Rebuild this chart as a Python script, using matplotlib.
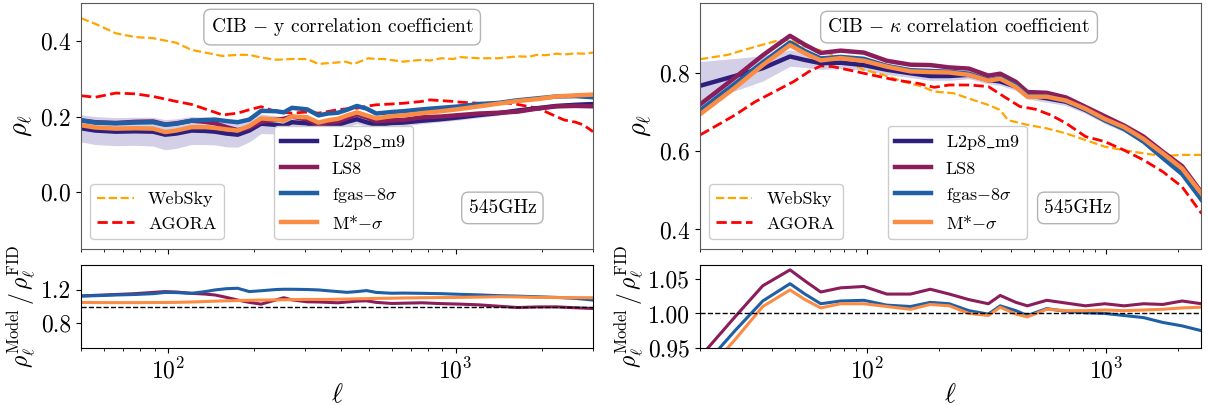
import matplotlib
matplotlib.use("Agg")
import matplotlib.pyplot as plt
import numpy as np

plt.rcParams["font.family"] = ["cmr10", "DejaVu Serif"]
plt.rcParams["mathtext.fontset"] = "cm"
plt.rcParams["axes.formatter.use_mathtext"] = True
plt.rcParams["font.size"] = 14

# ---------------- CIB - y (left) ----------------
ell_y = [50, 56, 66, 77, 89, 98, 107, 121, 135, 146, 160, 175, 192, 211, 238, 253, 270,
         305, 334, 360, 390, 420, 454, 490, 530, 600, 657, 765, 890, 1034, 1207, 1408,
         1644, 1918, 2238, 2612, 3000]
fid_y = [0.169, 0.163, 0.160, 0.161, 0.160, 0.152, 0.155, 0.163, 0.162, 0.160, 0.155, 0.152,
         0.163, 0.181, 0.178, 0.175, 0.185, 0.182, 0.169, 0.175, 0.178, 0.186, 0.193, 0.185,
         0.178, 0.183, 0.184, 0.189, 0.193, 0.198, 0.204, 0.209, 0.216, 0.222, 0.228, 0.231, 0.233]
fid_y_hi = [0.205, 0.200, 0.197, 0.198, 0.198, 0.192, 0.194, 0.200, 0.198, 0.195, 0.190, 0.185,
            0.193, 0.207, 0.202, 0.198, 0.205, 0.200, 0.186, 0.190, 0.192, 0.199, 0.205, 0.196,
            0.189, 0.193, 0.193, 0.197, 0.200, 0.205, 0.211, 0.215, 0.222, 0.228, 0.234, 0.237, 0.239]
fid_y_lo = [0.133, 0.126, 0.123, 0.124, 0.122, 0.112, 0.116, 0.126, 0.126, 0.125, 0.120, 0.119,
            0.133, 0.155, 0.154, 0.152, 0.165, 0.164, 0.152, 0.160, 0.164, 0.173, 0.181, 0.174,
            0.167, 0.173, 0.175, 0.181, 0.186, 0.191, 0.197, 0.203, 0.210, 0.216, 0.222, 0.225, 0.227]
ls8_y = [0.190, 0.185, 0.183, 0.186, 0.187, 0.179, 0.182, 0.189, 0.186, 0.182, 0.172, 0.164,
         0.171, 0.186, 0.192, 0.194, 0.200, 0.192, 0.178, 0.184, 0.186, 0.196, 0.206, 0.198,
         0.187, 0.190, 0.191, 0.198, 0.200, 0.204, 0.208, 0.210, 0.213, 0.221, 0.227, 0.228, 0.227]
fgas_y = [0.190, 0.184, 0.182, 0.184, 0.185, 0.178, 0.181, 0.189, 0.191, 0.192, 0.188, 0.185,
          0.192, 0.215, 0.214, 0.211, 0.223, 0.219, 0.203, 0.208, 0.210, 0.218, 0.228, 0.221,
          0.208, 0.212, 0.214, 0.219, 0.223, 0.227, 0.233, 0.236, 0.243, 0.248, 0.253, 0.254, 0.251]
mstar_y = [0.177, 0.171, 0.168, 0.169, 0.168, 0.159, 0.163, 0.172, 0.172, 0.170, 0.166, 0.163,
           0.175, 0.195, 0.192, 0.189, 0.200, 0.198, 0.184, 0.190, 0.194, 0.203, 0.211, 0.203,
           0.195, 0.201, 0.203, 0.209, 0.214, 0.220, 0.227, 0.234, 0.241, 0.246, 0.253, 0.256, 0.258]
ratio_ls8_y = [1.127, 1.135, 1.145, 1.155, 1.170, 1.180, 1.175, 1.159, 1.150, 1.139, 1.110, 1.078,
               1.050, 1.029, 1.080, 1.106, 1.080, 1.057, 1.055, 1.050, 1.045, 1.055, 1.065, 1.069,
               1.050, 1.037, 1.040, 1.045, 1.035, 1.029, 1.020, 1.004, 0.988, 0.995, 0.996, 0.985, 0.976]
ratio_fgas_y = [1.127, 1.130, 1.139, 1.145, 1.155, 1.170, 1.168, 1.159, 1.180, 1.200, 1.215, 1.220,
                1.180, 1.190, 1.205, 1.208, 1.208, 1.205, 1.200, 1.190, 1.180, 1.171, 1.180, 1.192,
                1.170, 1.160, 1.162, 1.159, 1.155, 1.147, 1.140, 1.131, 1.125, 1.118, 1.110, 1.098, 1.078]
ratio_mstar_y = [1.049, 1.048, 1.047, 1.047, 1.048, 1.049, 1.050, 1.055, 1.060, 1.065, 1.069, 1.072,
                 1.075, 1.078, 1.080, 1.081, 1.083, 1.086, 1.086, 1.086, 1.088, 1.090, 1.093, 1.095,
                 1.098, 1.100, 1.103, 1.106, 1.108, 1.110, 1.114, 1.118, 1.116, 1.110, 1.108, 1.107, 1.106]

ell_ext_y = [50, 56, 66, 77, 89, 107, 121, 129, 150, 155, 175, 192, 211, 238, 270, 305, 334,
             390, 414, 440, 454, 498, 530, 563, 657, 765, 814, 890, 980, 1034, 1207, 1408,
             1500, 1644, 1800, 1918, 2050, 2238, 2380, 2612, 2775, 3000]
websky_y = [0.460, 0.445, 0.420, 0.410, 0.407, 0.395, 0.376, 0.372, 0.362, 0.360, 0.363, 0.363,
            0.356, 0.350, 0.352, 0.352, 0.339, 0.343, 0.345, 0.339, 0.342, 0.354, 0.352, 0.352,
            0.345, 0.350, 0.348, 0.354, 0.352, 0.357, 0.354, 0.354, 0.356, 0.359, 0.358, 0.363,
            0.362, 0.366, 0.364, 0.367, 0.366, 0.369]
agora_y = [0.255, 0.251, 0.262, 0.260, 0.253, 0.240, 0.232, 0.225, 0.208, 0.204, 0.209, 0.218,
           0.226, 0.213, 0.209, 0.212, 0.209, 0.218, 0.220, 0.222, 0.222, 0.228, 0.231, 0.232,
           0.235, 0.240, 0.244, 0.242, 0.240, 0.238, 0.235, 0.235, 0.236, 0.232, 0.226, 0.222,
           0.213, 0.200, 0.191, 0.185, 0.178, 0.160]

# ---------------- CIB - kappa (right) ----------------
ell_k = [20, 28, 36.6, 47.6, 55, 64, 77.5, 97, 121, 152, 184, 221, 267, 322, 361, 420, 469,
         565, 681, 821, 989, 1192, 1436, 1730, 2085, 2512]
fid_k = [0.768, 0.793, 0.813, 0.843, 0.834, 0.826, 0.827, 0.821, 0.809, 0.800, 0.793, 0.793,
         0.796, 0.783, 0.779, 0.766, 0.744, 0.736, 0.727, 0.706, 0.680, 0.659, 0.629, 0.591,
         0.552, 0.488]
fid_k_hi = [0.830, 0.838, 0.845, 0.860, 0.852, 0.843, 0.842, 0.834, 0.821, 0.811, 0.804, 0.804,
            0.806, 0.793, 0.789, 0.776, 0.754, 0.746, 0.737, 0.715, 0.689, 0.668, 0.638, 0.600,
            0.561, 0.497]
fid_k_lo = [0.730, 0.755, 0.780, 0.818, 0.815, 0.810, 0.812, 0.808, 0.797, 0.789, 0.782, 0.782,
            0.786, 0.773, 0.769, 0.756, 0.734, 0.726, 0.717, 0.697, 0.671, 0.650, 0.620, 0.582,
            0.543, 0.479]
ls8_k = [0.720, 0.789, 0.846, 0.896, 0.873, 0.852, 0.858, 0.853, 0.832, 0.822, 0.821, 0.815,
         0.812, 0.794, 0.799, 0.778, 0.752, 0.750, 0.738, 0.714, 0.690, 0.666, 0.638, 0.599,
         0.562, 0.495]
fgas_k = [0.705, 0.773, 0.828, 0.879, 0.857, 0.838, 0.842, 0.837, 0.819, 0.808, 0.806, 0.804,
          0.799, 0.782, 0.788, 0.769, 0.742, 0.741, 0.729, 0.707, 0.680, 0.657, 0.625, 0.583,
          0.542, 0.476]
mstar_k = [0.695, 0.763, 0.821, 0.872, 0.851, 0.833, 0.839, 0.832, 0.817, 0.805, 0.803, 0.802,
           0.796, 0.781, 0.786, 0.765, 0.740, 0.740, 0.730, 0.709, 0.683, 0.662, 0.632, 0.595,
           0.556, 0.492]
ratio_ls8_k = [0.937, 0.995, 1.040, 1.063, 1.047, 1.031, 1.037, 1.039, 1.028, 1.028, 1.035, 1.028,
               1.020, 1.014, 1.026, 1.016, 1.011, 1.019, 1.015, 1.011, 1.014, 1.011, 1.014, 1.013,
               1.018, 1.014]
ratio_fgas_k = [0.918, 0.975, 1.018, 1.043, 1.028, 1.014, 1.018, 1.019, 1.012, 1.010, 1.016, 1.014,
                1.004, 0.999, 1.011, 1.004, 0.997, 1.007, 1.003, 1.001, 1.000, 0.997, 0.994, 0.987,
                0.982, 0.975]
ratio_mstar_k = [0.905, 0.962, 1.010, 1.034, 1.020, 1.008, 1.014, 1.014, 1.010, 1.006, 1.013, 1.011,
                 1.000, 0.997, 1.009, 0.999, 0.995, 1.006, 1.004, 1.004, 1.005, 1.004, 1.005, 1.006,
                 1.008, 1.009]

ell_ext_k = [20, 26, 34, 42.5, 47.6, 55, 66.6, 77.5, 97, 117, 141, 170, 191, 230, 277, 322, 361,
             389, 469, 565, 681, 821, 989, 1192, 1436, 1730, 2085, 2512]
websky_k = [0.836, 0.847, 0.868, 0.884, 0.885, 0.868, 0.856, 0.838, 0.809, 0.796, 0.779, 0.766,
            0.753, 0.749, 0.732, 0.719, 0.706, 0.680, 0.668, 0.659, 0.646, 0.629, 0.612, 0.603,
            0.595, 0.588, 0.591, 0.591]
ell_agora_k = [20, 23, 28, 34, 41, 49.4, 57, 64, 72, 83, 104, 131, 164, 191, 221, 267, 322, 375,
               436, 506, 588, 681, 821, 989, 1192, 1436, 1730, 2085, 2512]
agora_k = [0.642, 0.663, 0.693, 0.727, 0.753, 0.779, 0.804, 0.819, 0.817, 0.809, 0.796, 0.783,
           0.774, 0.764, 0.770, 0.770, 0.766, 0.740, 0.715, 0.708, 0.693, 0.672, 0.638, 0.625,
           0.603, 0.578, 0.548, 0.509, 0.441]

c_fid = "#2e1f7c"
c_ls8 = "#8a1d5a"
c_fgas = "#1f5fa6"
c_mstar = "#fb8c44"
c_band = "#d3cfe6"

fig = plt.figure(figsize=(12.08, 4.05), dpi=100)
axes = [
    (fig.add_axes([0.0671, 0.3852, 0.4238, 0.6074]), fig.add_axes([0.0671, 0.1407, 0.4238, 0.2049])),
    (fig.add_axes([0.5795, 0.3852, 0.4147, 0.6074]), fig.add_axes([0.5795, 0.1407, 0.4147, 0.2049])),
]

panels = [
    dict(ell=ell_y, fid=fid_y, hi=fid_y_hi, lo=fid_y_lo, ls8=ls8_y, fgas=fgas_y, mstar=mstar_y,
         r_ls8=ratio_ls8_y, r_fgas=ratio_fgas_y, r_mstar=ratio_mstar_y,
         ell_ws=ell_ext_y, ws=websky_y, ell_ag=ell_ext_y, ag=agora_y,
         title=r"CIB $-$ y correlation coefficient", xlim=(50, 3000), ylim=(-0.15, 0.5),
         yticks=[0.0, 0.2, 0.4], rylim=(0.5, 1.5), ryticks=[0.8, 1.2], rfmt="%.1f",
         leg2x=0.377, ghzx=0.823, titlex=0.51),
    dict(ell=ell_k, fid=fid_k, hi=fid_k_hi, lo=fid_k_lo, ls8=ls8_k, fgas=fgas_k, mstar=mstar_k,
         r_ls8=ratio_ls8_k, r_fgas=ratio_fgas_k, r_mstar=ratio_mstar_k,
         ell_ws=ell_ext_k, ws=websky_k, ell_ag=ell_agora_k, ag=agora_k,
         title=r"CIB $-\ \kappa$ correlation coefficient", xlim=(20, 2500), ylim=(0.35, 0.98),
         yticks=[0.4, 0.6, 0.8], rylim=(0.95, 1.07), ryticks=[0.95, 1.00, 1.05], rfmt="%.2f",
         leg2x=0.375, ghzx=0.755, titlex=0.517),
]

for (ax, rax), p in zip(axes, panels):
    ax.fill_between(p["ell"], p["lo"], p["hi"], color=c_band, lw=0)
    h_ws, = ax.plot(p["ell_ws"], p["ws"], ls="--", color="orange", lw=1.6, label="WebSky")
    h_ag, = ax.plot(p["ell_ag"], p["ag"], ls="--", color="red", lw=2.0, label="AGORA")
    h1, = ax.plot(p["ell"], p["fid"], color=c_fid, lw=3.2, label=r"L2p8$\_$m9")
    h2, = ax.plot(p["ell"], p["ls8"], color=c_ls8, lw=3.2, label="LS8")
    h3, = ax.plot(p["ell"], p["fgas"], color=c_fgas, lw=3.2, label=r"fgas$-8\sigma$")
    h4, = ax.plot(p["ell"], p["mstar"], color=c_mstar, lw=3.2, label=r"M*$-\sigma$")
    ax.set_xscale("log")
    ax.set_xlim(*p["xlim"])
    ax.set_ylim(*p["ylim"])
    ax.set_yticks(p["yticks"])
    ax.tick_params(axis="x", which="both", labelbottom=False)
    ax.tick_params(labelsize=17)
    for s in ax.spines.values():
        s.set_color("0.35")
    ax.set_ylabel(r"$\rho_\ell$", fontsize=19)

    leg1 = ax.legend(handles=[h_ws, h_ag], loc="lower left", bbox_to_anchor=(0.018, 0.041),
                     borderaxespad=0, fontsize=13, framealpha=1, edgecolor="0.8")
    ax.add_artist(leg1)
    ax.legend(handles=[h1, h2, h3, h4], loc="lower left", bbox_to_anchor=(p["leg2x"], 0.041),
              borderaxespad=0, fontsize=13, framealpha=1, edgecolor="0.8")
    ax.text(p["titlex"], 0.902, p["title"], transform=ax.transAxes, ha="center", va="center",
            fontsize=14, bbox=dict(boxstyle="round,pad=0.35", fc="white", ec="0.7"))
    ax.text(p["ghzx"], 0.167, "545GHz", transform=ax.transAxes, ha="center", va="center",
            fontsize=14, bbox=dict(boxstyle="round,pad=0.35", fc="white", ec="0.7"))

    rax.plot(p["ell"], p["r_ls8"], color=c_ls8, lw=2.2)
    rax.plot(p["ell"], p["r_fgas"], color=c_fgas, lw=2.2)
    rax.plot(p["ell"], p["r_mstar"], color=c_mstar, lw=2.2)
    rax.axhline(1.0, color="black", ls="--", lw=1)
    rax.set_xscale("log")
    rax.set_xlim(*p["xlim"])
    rax.set_ylim(*p["rylim"])
    rax.set_yticks(p["ryticks"])
    rax.yaxis.set_major_formatter(matplotlib.ticker.FormatStrFormatter(p["rfmt"]))
    rax.tick_params(labelsize=17)
    rax.set_xlabel(r"$\ell$", fontsize=19, labelpad=0)
    rax.set_ylabel(r"$\rho_\ell^{\rm Model}\,/\,\rho_\ell^{\rm FID}$", fontsize=17, labelpad=2)

fig.savefig("out.png", dpi=100)
